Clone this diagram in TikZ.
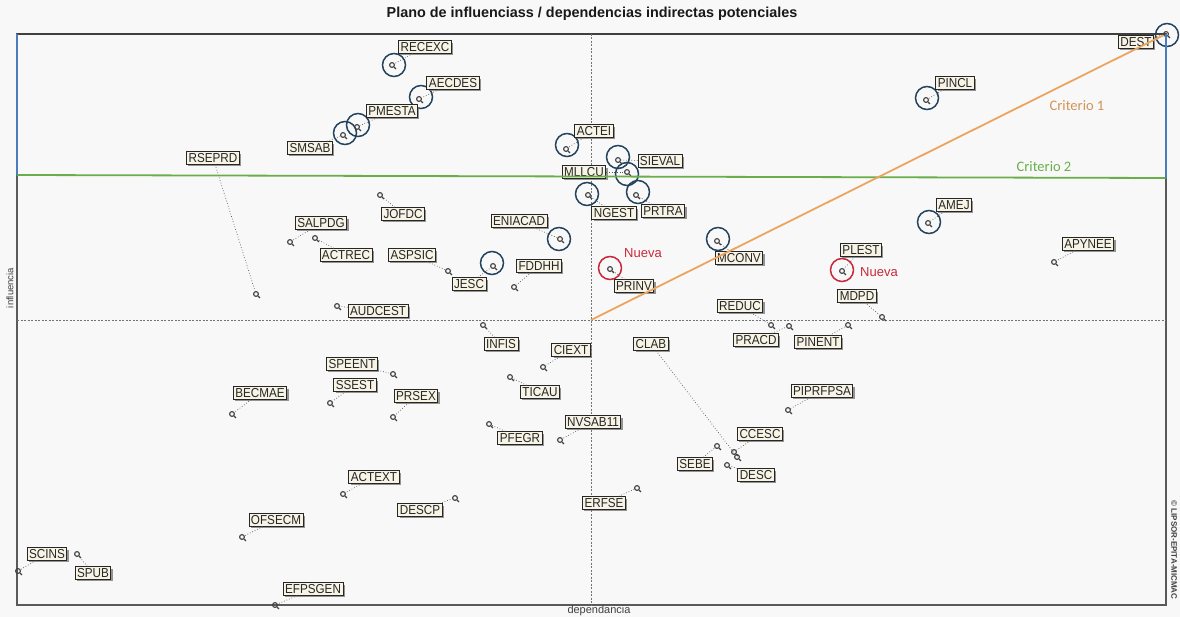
\documentclass[tikz,border=0pt]{standalone}
\usepackage{fontspec}
\setmainfont{Liberation Sans}
\newfontfamily\lblfont[FakeStretch=0.9]{Liberation Sans}
\newfontfamily\calfont{Carlito}
\usetikzlibrary{shadows}
\definecolor{bgc}{HTML}{F8F8F8}
\definecolor{lblfill}{HTML}{F7F4E6}
\definecolor{navyc}{HTML}{23435F}
\definecolor{redc}{HTML}{C8283A}
\definecolor{orangel}{HTML}{EBA55E}
\definecolor{greenl}{HTML}{6AAE4A}
\definecolor{bluel}{HTML}{4A7DBE}
\definecolor{framec}{HTML}{5A5A5A}
\begin{document}
\begin{tikzpicture}[x=1pt,y=-1pt,
  lbl/.style={draw=black!85, line width=0.9pt, fill=lblfill,
    font=\lblfont\fontsize{13}{13}\selectfont, text=black!85,
    inner xsep=2pt, inner ysep=1.6pt, text height=9.3pt, text depth=0pt,
    drop shadow={shadow xshift=1.8pt, shadow yshift=-1.8pt, fill=black!55, opacity=0.75}},
  pt/.style={circle, draw=black!75, line width=1.1pt, inner sep=0pt, minimum size=4.8pt},
  tail/.style={draw=black!75, line width=1.2pt},
  lead/.style={draw=black!65, line width=0.7pt, dotted},
  bcirc/.style={circle, draw=navyc, line width=1.5pt, minimum size=23pt, inner sep=0pt},
  rcirc/.style={circle, draw=redc, line width=1.5pt, minimum size=23pt, inner sep=0pt},
  axisdash/.style={draw=black!55, line width=0.6pt, dash pattern=on 2pt off 1.5pt},
  crit/.style={font=\calfont\fontsize{14.5}{14.5}\selectfont},
  nueva/.style={font=\fontsize{13}{13}\selectfont, text=redc}
]
\useasboundingbox (0,0) rectangle (1180,617);
\fill[bgc] (0,0) rectangle (1180,617);

% frame
\draw[framec, line width=1.3pt] (17,34) rectangle (1166,605);
\draw[black!75, line width=1.3pt] (17,34) -- (1166,34);
% central axes
\draw[axisdash] (591,34) -- (591,605);
\draw[axisdash] (17,320) -- (1166,320);

% title and axis texts
\node[font=\bfseries\fontsize{14.4}{14.4}\selectfont, text=black!90] (title) at (592,14) {Plano de influenciass / dependencias indirectas potenciales};
\node[font=\fontsize{9.5}{9.5}\selectfont, text=black!75, rotate=90] (yax) at (10,288) {influencia};
\node[font=\fontsize{11}{11}\selectfont, text=black!75] (xax) at (599,611) {dependancia};
\node[font=\bfseries\fontsize{8}{8}\selectfont, text=black!75, rotate=-90] (copy) at (1174,550) {\textcopyright\ LIPSOR-EPITA-MICMAC};

% highlight circles
\foreach \n/\x/\y in {RECEXC/394/65, AECDES/421/97, PMESTA/358/125, SMSAB/345/133,
  ACTEI/567/145, SIEVAL/618/157, MLLCU/627/174, NGEST/587/194, PRTRA/638/192,
  DEST/1167/35, PINCL/927/98, AMEJ/929/222, MCONV/718/239, ENIACAD/559/239, JESC/492/263}
  {\node[bcirc] (C\n) at (\x,\y) {};}
\foreach \n/\x/\y in {PLEST/842/270, PRINV/610/268}
  {\node[rcirc] (C\n) at (\x,\y) {};}

% variables: name / label x / label y / point x / point y
\foreach \n/\lx/\ly/\px/\py in {
  RECEXC/425/47/392/65, AECDES/453/83/419/99, PMESTA/392/111/357/127,
  SMSAB/310/148/343/135, RSEPRD/213/158/256/294, ACTEI/594/131/566/149,
  SIEVAL/660/161/618/160, MLLCU/584/172/627/172, NGEST/614/213/588/195,
  PRTRA/663/211/636/195, DEST/1136/42/1166/34, PINCL/955/83/926/100,
  AMEJ/954/205/928/223, APYNEE/1088/244/1054/262, PLEST/861/250/842/271,
  MDPD/857/296/882/317, MCONV/739/258/717/241, PRINV/634/286/610/269,
  ENIACAD/519/221/560/239, JESC/469/284/493/266, ASPSIC/412/255/448/271,
  FDDHH/539/266/514/287, JOFDC/403/214/380/195, SALPDG/321/223/290/242,
  ACTREC/346/255/315/238, AUDCEST/378/311/337/306, INFIS/501/344/483/325,
  CIEXT/571/350/543/367, TICAU/540/392/510/377, SPEENT/352/364/393/374,
  SSEST/355/385/330/403, BECMAE/260/393/232/414, PRSEX/416/396/393/417,
  PFEGR/520/438/489/424, NVSAB11/593/422/560/440, ACTEXT/374/477/343/494,
  DESCP/420/510/455/498, OFSECM/276/520/242/537, SCINS/47/554/18/571,
  SPUB/93/573/77/554, EFPSGEN/313/589/275/605, ERFSE/604/503/637/488,
  CLAB/651/344/737/457, CCESC/760/434/734/452, SEBE/695/464/717/446,
  DESC/756/475/727/465, REDUC/740/306/771/325, PRACD/756/340/789/326,
  PINENT/818/342/848/325, PIPRFPSA/822/391/788/410}
{
  \node[lbl] (L\n) at (\lx,\ly) {\n};
  \node[pt] (P\n) at (\px,\py) {};
  \draw[lead] (L\n) -- (P\n);
  \draw[tail] (P\n.-45) -- ++(1.8,1.8);
}

% criteria lines
\draw[greenl, line width=1.8pt] (17,175) -- (1166,178);
\draw[bluel, line width=2pt] (17,34) -- (17,175);
\draw[bluel, line width=2pt] (1166,34) -- (1166,178);
\coordinate (O) at (591,320);
\draw[orangel, line width=1.8pt] (O) -- (PDEST);

\node[crit, text=orangel!90!black] (c1) at (1077,106) {Criterio 1};
\node[crit, text=greenl] (c2) at (1044,167) {Criterio 2};
\node[nueva] (n1) at (643,253) {Nueva};
\node[nueva] (n2) at (879,272) {Nueva};
\end{tikzpicture}
\end{document}
